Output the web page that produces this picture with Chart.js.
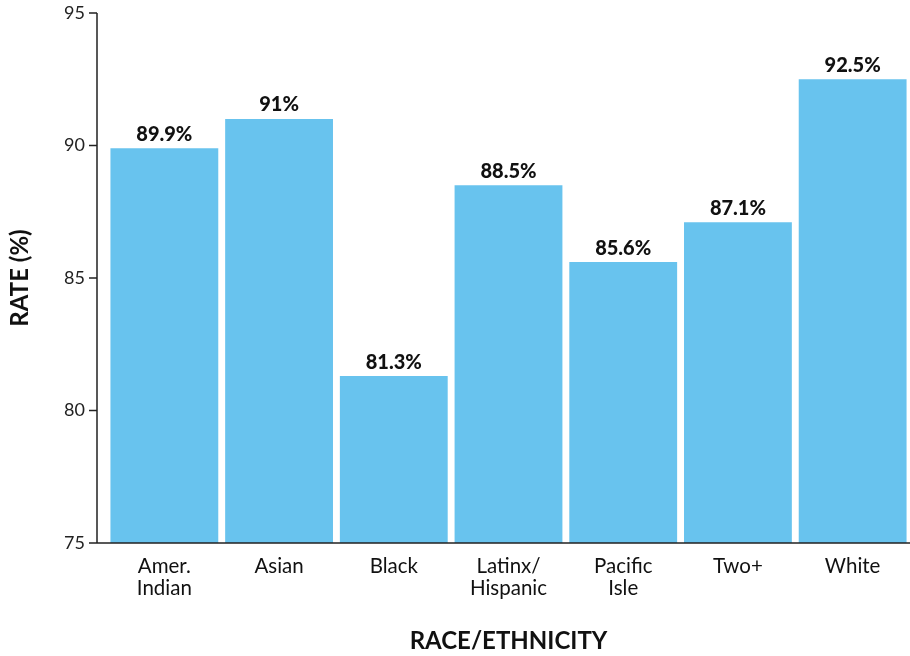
<!DOCTYPE html>
<html>
<head>
<meta charset="utf-8">
<script src="https://cdn.jsdelivr.net/npm/chart.js@4.4.1/dist/chart.umd.min.js"></script>
<style>
    body { margin: 0; background: #fff; }
    #wrap { width: 910px; height: 656px; position: relative; }
</style>
</head>
<body>
<div id="wrap"><canvas id="myBarChart"></canvas></div>
<script>
const categories = [["Amer.", "Indian"], "Asian", "Black", ["Latinx/", "Hispanic"], ["Pacific", "Isle"], "Two+", "White"];
const rates = [89.9, 91, 81.3, 88.5, 85.6, 87.1, 92.5];
const rateLabels = ["89.9%", "91%", "81.3%", "88.5%", "85.6%", "87.1%", "92.5%"];
const yTicks = [75, 80, 85, 90, 95];

const AXIS_GAP = 10; // mezera mezi osou y a prvním sloupcem

// vlastní osy - čára osy je posunutá doleva od první kategorie
const axisPlugin = {
    id: 'axisLines',
    afterDraw(chart) {
        const ctx = chart.ctx;
        const area = chart.chartArea;
        const y = chart.scales.y;
        const x0 = area.left - AXIS_GAP;
        ctx.save();
        ctx.strokeStyle = '#222';
        ctx.lineWidth = 1.5;
        ctx.beginPath();
        ctx.moveTo(x0, y.getPixelForValue(95));
        ctx.lineTo(x0, area.bottom);
        ctx.lineTo(area.right, area.bottom);
        yTicks.forEach(v => {
            const py = y.getPixelForValue(v);
            ctx.moveTo(x0 - 8, py);
            ctx.lineTo(x0, py);
        });
        ctx.stroke();
        ctx.restore();
    }
};

// popisky hodnot nad sloupci
const labelPlugin = {
    id: 'barLabels',
    afterDatasetsDraw(chart) {
        const ctx = chart.ctx;
        const meta = chart.getDatasetMeta(0);
        ctx.save();
        ctx.font = '900 20px Lato';
        ctx.fillStyle = '#111';
        ctx.textAlign = 'center';
        ctx.textBaseline = 'bottom';
        meta.data.forEach((bar, i) => {
            ctx.fillText(rateLabels[i], bar.x, bar.y - 4);
        });
        ctx.restore();
    }
};

const data = {
    labels: categories,
    datasets: [{
        data: rates,
        backgroundColor: '#68C3EE',
        borderWidth: 0,
        categoryPercentage: 1,
        barPercentage: 0.94
    }]
};

const options = {
    responsive: true,
    maintainAspectRatio: false,
    animation: false,
    layout: { padding: { top: 13, right: 0, bottom: 0, left: 0 } },
    plugins: {
        legend: { display: false },
        tooltip: { enabled: false }
    },
    scales: {
        x: {
            afterFit(scale) {
                scale.height = 113;
                scale.paddingLeft = 0;
                scale.paddingRight = 0;
            },
            grid: { display: false, drawTicks: false },
            border: { display: false },
            ticks: {
                color: '#111',
                font: { family: 'Lato', size: 20.5, lineHeight: 1.1 },
                padding: 12,
                maxRotation: 0,
                autoSkip: false
            },
            title: {
                display: true,
                text: 'RACE/ETHNICITY',
                color: '#111',
                font: { family: 'Lato', size: 24, weight: 'bold' },
                padding: { top: 28, bottom: 0 }
            }
        },
        y: {
            min: 75,
            max: 95,
            afterFit(scale) {
                scale.width = 107;
                scale.paddingTop = 0;
                scale.paddingBottom = 0;
            },
            grid: { display: false, drawTicks: false },
            border: { display: false },
            ticks: {
                stepSize: 5,
                color: '#222',
                font: { family: 'Lato', size: 18 },
                padding: 22
            },
            title: {
                display: true,
                text: 'RATE (%)',
                color: '#111',
                font: { family: 'Lato', size: 24, weight: 'bold' },
                padding: { top: 6, bottom: 0 }
            }
        }
    }
};

const ctx = document.getElementById('myBarChart').getContext('2d');
const myBarChart = new Chart(ctx, {
    type: 'bar',
    data: data,
    options: options,
    plugins: [axisPlugin, labelPlugin]
});
</script>
</body>
</html>
